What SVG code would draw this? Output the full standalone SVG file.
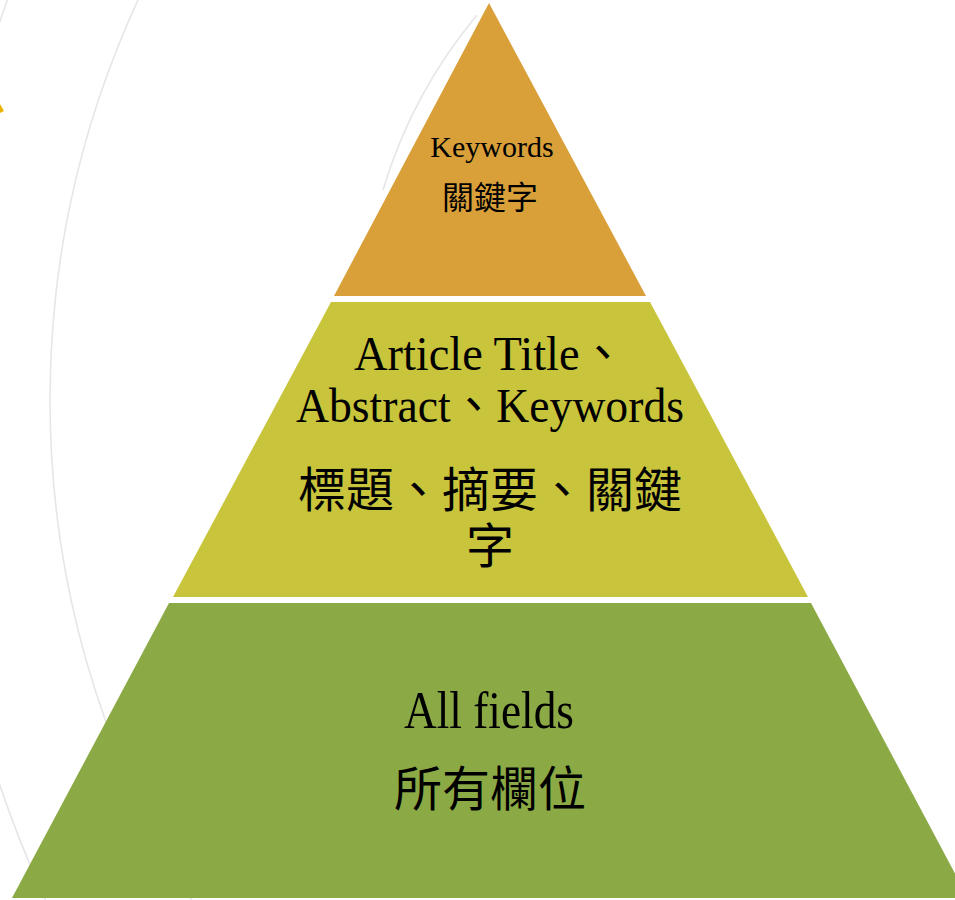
<svg xmlns="http://www.w3.org/2000/svg" width="955" height="900" viewBox="0 0 955 900">
  <style>
    .arc { fill: none; stroke: #e6e6e6; stroke-width: 1.6; }
    .lbl { font-family: "Liberation Serif", "Noto Sans CJK TC", serif; fill: #000; text-anchor: middle; }
    .cjk { font-family: "Noto Sans CJK TC", "Liberation Serif", sans-serif; fill: #000; text-anchor: middle; }
  </style>
  <rect width="955" height="900" fill="#ffffff"/>
  <g id="background">
    <circle class="arc" cx="1003" cy="400" r="953"/>
    <circle class="arc" cx="1128" cy="403.5" r="1191"/>
    <path class="arc" d="M477,15 Q412,93 383,190"/>
    <polygon points="0,104 4,111 0,113" fill="#E8B400"/>
  </g>
  <g id="layer-top">
    <polygon points="489,3 646,296 334,296" fill="#D9A03A"/>
    <text class="lbl" x="492" y="157" font-size="30">Keywords</text>
    <text class="cjk" x="490" y="209" font-size="32">關鍵字</text>
  </g>
  <g id="layer-middle">
    <polygon points="331,302 650,302 808,597 173,597" fill="#C8C43B"/>
    <text class="lbl" x="490" y="370" font-size="48" textLength="272" lengthAdjust="spacingAndGlyphs">Article Title、</text>
    <text class="lbl" x="490" y="422" font-size="48" textLength="388" lengthAdjust="spacingAndGlyphs">Abstract、Keywords</text>
    <text class="cjk" x="490" y="507" font-size="48">標題、摘要、關鍵</text>
    <text class="cjk" x="490" y="563" font-size="48">字</text>
  </g>
  <g id="layer-bottom">
    <polygon points="169,603 811,603 968,898 12,898" fill="#8BAA45"/>
    <text class="lbl" x="489" y="728" font-size="52" textLength="170" lengthAdjust="spacingAndGlyphs">All fields</text>
    <text class="cjk" x="490" y="806" font-size="48">所有欄位</text>
  </g>
  <g id="connectors"/>
</svg>
